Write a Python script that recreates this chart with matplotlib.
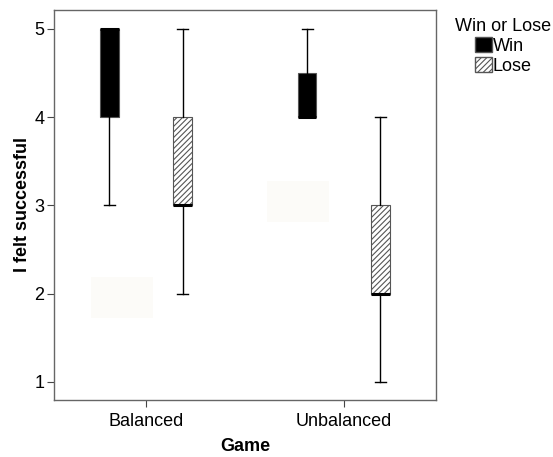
import matplotlib
matplotlib.use('Agg')
import matplotlib.pyplot as plt
from matplotlib.patches import Patch, Rectangle

plt.rcParams['font.family'] = ['Liberation Sans', 'DejaVu Sans']
plt.rcParams['hatch.linewidth'] = 0.8

# Data
games = ['Balanced', 'Unbalanced']
groups = ['Win', 'Lose']
# per game: [whisker low, q1, median, q3, whisker high]
win_stats = [[3, 4, 5, 5, 5], [4, 4, 4, 4.5, 5]]
lose_stats = [[2, 3, 3, 4, 5], [1, 2, 2, 3, 4]]
# faint redaction patches in the original picture (x0, x1, y0, y1)
blanks = [(-0.278, 0.035, 1.725, 2.19), (0.612, 0.926, 2.813, 3.278)]

fig = plt.figure(figsize=(5.53, 4.57), dpi=100)
ax = fig.add_axes([54 / 553, 57 / 457, 382 / 553, 390 / 457])

for x0, x1, y0, y1 in blanks:
    ax.add_patch(Rectangle((x0, y0), x1 - x0, y1 - y0, facecolor='#fcfbf8', edgecolor='none', zorder=0))


def to_bxp(s, label):
    return {'whislo': s[0], 'q1': s[1], 'med': s[2], 'q3': s[3], 'whishi': s[4], 'label': label, 'fliers': []}


offset = 0.185
width = 0.094
for i, game in enumerate(games):
    for stats, dx, face, hatch in [(win_stats[i], -offset, 'black', None),
                                   (lose_stats[i], offset, 'white', '//////')]:
        bp = ax.bxp([to_bxp(stats, game)], positions=[i + dx], widths=width, patch_artist=True,
                    showfliers=False, capwidths=0.055,
                    boxprops=dict(facecolor=face, edgecolor='#555555', linewidth=0.8, hatch=hatch),
                    medianprops=dict(color='black', linewidth=2.2),
                    whiskerprops=dict(color='black', linewidth=1.0),
                    capprops=dict(color='black', linewidth=1.0), manage_ticks=False)
        for b in bp['boxes']:
            b.set_zorder(2)

ax.set_xlim(-0.465, 1.467)
ax.set_ylim(0.796, 5.215)
ax.set_xticks(range(len(games)))
ax.set_xticklabels(games, fontsize=13)
ax.set_yticks([1, 2, 3, 4, 5])
ax.tick_params(axis='y', labelsize=13, length=5, color='#444444', width=0.8, pad=2)
ax.tick_params(axis='x', length=5, color='#444444', width=0.8, pad=4)
for sp in ax.spines.values():
    sp.set_color('#666666')
    sp.set_linewidth(1.0)

ax.set_xlabel('Game', fontsize=13, fontweight='bold', labelpad=6)
ax.set_ylabel('I felt successful', fontsize=13, fontweight='bold', labelpad=2)

handles = [Patch(facecolor='black', edgecolor='#555555', label='Win'),
           Patch(facecolor='white', edgecolor='#555555', hatch='//////', label='Lose')]
leg = fig.legend(handles=handles, title='Win or Lose', loc='upper left',
                 bbox_to_anchor=(455 / 553, 1 - 18 / 457), frameon=False, fontsize=13,
                 title_fontsize=13, handlelength=0.95, handleheight=0.95, handletextpad=0.05,
                 labelspacing=0.1, borderaxespad=0, borderpad=0)

fig.savefig('out.png', dpi=100)
